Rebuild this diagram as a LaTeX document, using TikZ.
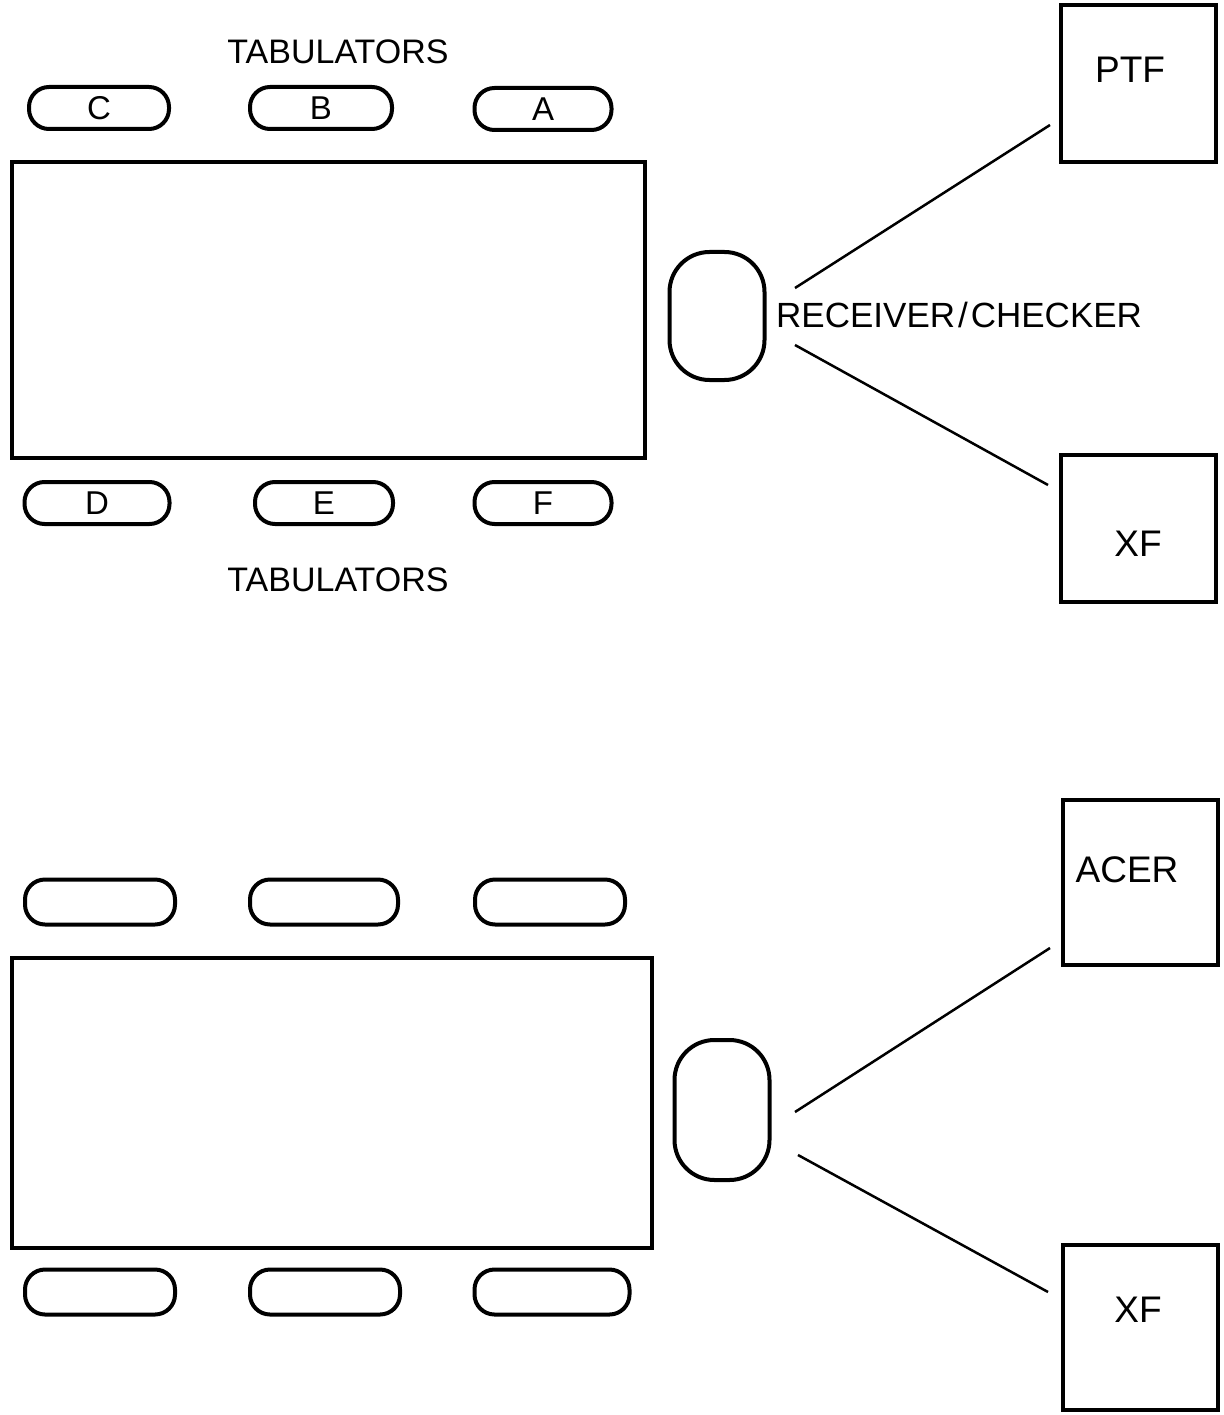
\documentclass[tikz,border=0pt]{standalone}
\usepackage{fontspec}
\setmainfont{Liberation Sans}
\usetikzlibrary{positioning}
\begin{document}
\begin{tikzpicture}[x=1pt,y=-1pt,
  pill/.style={draw,line width=4pt,rounded corners=20pt,minimum width=140pt,minimum height=42pt,inner sep=0pt,font=\fontsize{33}{33}\selectfont},
  recv/.style={draw,line width=4pt,rounded corners=40pt,minimum width=95pt,inner sep=0pt},
  bigrect/.style={draw,line width=4pt,inner sep=0pt},
  unitbox/.style={draw,line width=4pt,inner sep=0pt,minimum width=155pt},
  lbl/.style={font=\fontsize{34}{34}\selectfont,inner sep=0pt},
  boxlbl/.style={font=\fontsize{37}{37}\selectfont,inner sep=0pt},
  conn/.style={line width=2.5pt}]
\useasboundingbox (0,0) rectangle (1223,1415);
% ---------- top section ----------
\node[lbl] (tabT) at (338,52) {TABULATORS};
\node[pill] (C) at (99,108) {C};
\node[pill,minimum width=142pt] (B) at (321,108) {B};
\node[pill,minimum width=137pt] (A) at (543,109) {A};
\node[bigrect,minimum width=633pt,minimum height=296pt] (R1) at (328.5,310) {};
\node[pill,minimum width=145pt] (D) at (97,503) {D};
\node[pill,minimum width=138pt] (E) at (324,503) {E};
\node[pill,minimum width=137pt] (F) at (543,503) {F};
\node[lbl] (tabB) at (338,580) {TABULATORS};
\node[recv,minimum height=128pt] (rc1) at (717,316) {};
\node[lbl,font=\fontsize{35}{35}\selectfont,anchor=west] (rclbl) at (776,315) {RECEIVER\kern3pt/\kern3pt CHECKER};
\node[unitbox,minimum height=157pt] (ptf) at (1138.5,84) {};
\node[boxlbl] (ptft) at (1130,70) {PTF};
\node[unitbox,minimum height=147pt] (xf1) at (1138.5,528) {};
\node[boxlbl] (xf1t) at (1138,544) {XF};
\coordinate (p1a) at (795,288);
\coordinate (p1b) at (1050,125);
\coordinate (p2a) at (795,345);
\coordinate (p2b) at (1048,485);
\draw[conn] (p1a) -- (p1b);
\draw[conn] (p2a) -- (p2b);
% ---------- bottom section ----------
\node[pill,minimum width=150pt,minimum height=45pt] (t1) at (100,902) {};
\node[pill,minimum width=148pt,minimum height=45pt] (t2) at (324,902) {};
\node[pill,minimum width=150pt,minimum height=45pt] (t3) at (550,902) {};
\node[bigrect,minimum width=640pt,minimum height=290pt] (R2) at (332,1103) {};
\node[pill,minimum width=150pt,minimum height=45pt] (b1) at (100,1292) {};
\node[pill,minimum width=150pt,minimum height=45pt] (b2) at (325,1292) {};
\node[pill,minimum width=155pt,minimum height=45pt] (b3) at (552,1292) {};
\node[recv,minimum height=140pt] (rc2) at (722,1110) {};
\node[unitbox,minimum height=165pt] (acer) at (1140,882) {};
\node[boxlbl] (acert) at (1127,870) {ACER};
\node[unitbox,minimum height=165pt] (xf2) at (1140,1327) {};
\node[boxlbl] (xf2t) at (1138,1310) {XF};
\coordinate (q1a) at (795,1112);
\coordinate (q1b) at (1050,948);
\coordinate (q2a) at (798,1155);
\coordinate (q2b) at (1048,1292);
\draw[conn] (q1a) -- (q1b);
\draw[conn] (q2a) -- (q2b);
\end{tikzpicture}
\end{document}
